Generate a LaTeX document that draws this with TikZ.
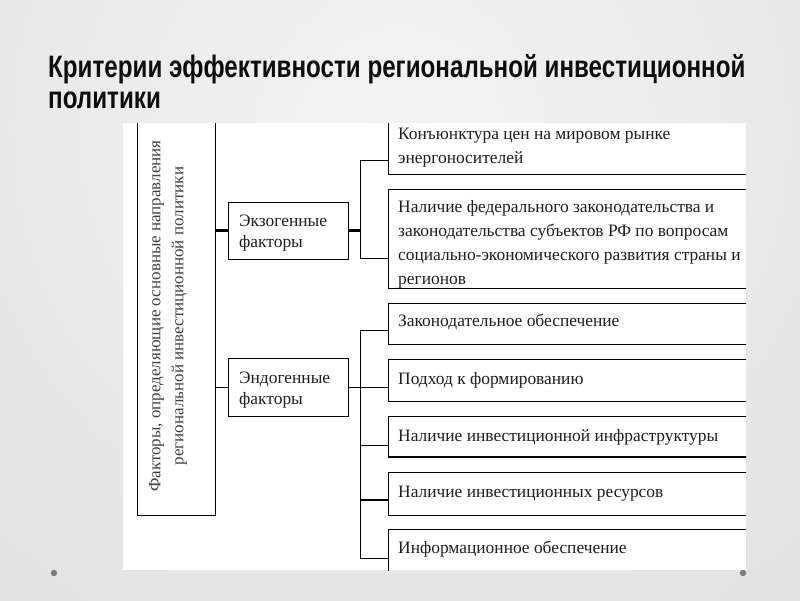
\documentclass[tikz,border=0pt]{standalone}
\usepackage{fontspec}
\setmainfont{Liberation Serif}
\newfontfamily\titlefont[FakeStretch=0.78]{Liberation Sans}
\usetikzlibrary{fit}
\tikzset{
  box/.style={draw=black, line width=0.9pt, inner sep=0pt, fill=none},
  txt/.style={inner sep=0pt, align=left, text=black!88, font=\fontsize{17.4}{24}\selectfont},
  stxt/.style={inner sep=0pt, align=left, text=black!88, font=\fontsize{17.4}{21.5}\selectfont},
  thinline/.style={draw=black, line width=0.9pt},
  thickline/.style={draw=black, line width=2.2pt},
  titletext/.style={inner sep=0pt, anchor=base west, text=black!95, font=\titlefont\bfseries\fontsize{31}{34}\selectfont},
}
\begin{document}
\begin{tikzpicture}[x=1pt,y=-1pt]
\useasboundingbox (0,0) rectangle (800,600);
% background
\fill[gray!30] (0,0) rectangle (800,600);
\begin{scope}
  \clip (0,0) rectangle (800,600);
  \shade[inner color=gray!9, outer color=gray!30] (400,130) circle (950);
\end{scope}
% title
\node[titletext] (title1) at (48,77) {Критерии эффективности региональной инвестиционной};
\node[titletext] (title2) at (48,108) {политики};
% dots
\fill[black!52] (54,573) circle (3.2);
\fill[black!52] (743,573) circle (3.2);
% panel
\fill[white] (123,123) rectangle (746,570);
\begin{scope}
\clip (123,123) rectangle (746,570);
% left box
\node[box, fit={(137,90) (215,515)}] (L) {};
\node[rotate=90, align=center, inner sep=0pt, text=black!75, font=\fontsize{17}{23}\selectfont] (Lt) at (168,316)
  {Факторы, определяющие основные направления\\региональной инвестиционной политики};
% middle boxes
\node[box, fit={(228,202) (348,259)}] (E) {};
\node[stxt, anchor=base west] (Et) at (239,247.5) {Экзогенные\\факторы};
\node[box, fit={(228,358) (348,416)}] (N) {};
\node[stxt, anchor=base west] (Nt) at (239,404.5) {Эндогенные\\факторы};
% right boxes
\node[box, fit={(388,100) (760,174)}] (R1) {};
\node[txt, anchor=base west] (R1t) at (398,163) {Конъюнктура цен на мировом рынке\\энергоносителей};
\node[box, fit={(388,189) (760,288)}] (R2) {};
\node[txt, anchor=base west] (R2t) at (398,284) {Наличие федерального законодательства и\\законодательства субъектов РФ по вопросам\\социально-экономического развития страны и\\регионов};
\node[box, fit={(388,303) (760,344)}] (R3) {};
\node[txt, anchor=base west] (R3t) at (398,326) {Законодательное обеспечение};
\node[box, fit={(388,359) (760,401)}] (R4) {};
\node[txt, anchor=base west] (R4t) at (398,384) {Подход к формированию};
\node[box, fit={(388,416) (760,457)}] (R5) {};
\draw[line width=2pt] (R5.south west) -- (R5.south east);
\node[txt, anchor=base west] (R5t) at (398,441) {Наличие инвестиционной инфраструктуры};
\node[box, fit={(388,472) (760,515)}] (R6) {};
\node[txt, anchor=base west] (R6t) at (398,497) {Наличие инвестиционных ресурсов};
\node[box, fit={(388,529) (760,600)}] (R7) {};
\node[txt, anchor=base west] (R7t) at (398,553) {Информационное обеспечение};
% connectors left -> middle
\draw[thickline] (L.east |- E.west) -- (E.west);
\draw[thinline] (L.east |- N.west) -- (N.west);
% exogenous branch
\coordinate (e1) at (360,160);
\coordinate (e2) at (360,258);
\draw[thickline] (E.east) -- (E.east -| e1);
\draw[thinline] (e1 -| R1.west) -- (e1) -- (e2) -- (e2 -| R2.west);
% endogenous branch
\coordinate (n3) at (360,330);
\coordinate (n5) at (360,445);
\coordinate (n6) at (360,500);
\coordinate (n7) at (360,558);
\draw[thinline] (N.east) -- (N.east -| R4.west);
\draw[thinline] (n3 -| R3.west) -- (n3) -- (n7) -- (n7 -| R7.west);
\draw[thinline] (n5) -- (n5 -| R5.west);
\draw[thickline] (n6) -- (n6 -| R6.west);
\end{scope}
\end{tikzpicture}
\end{document}
